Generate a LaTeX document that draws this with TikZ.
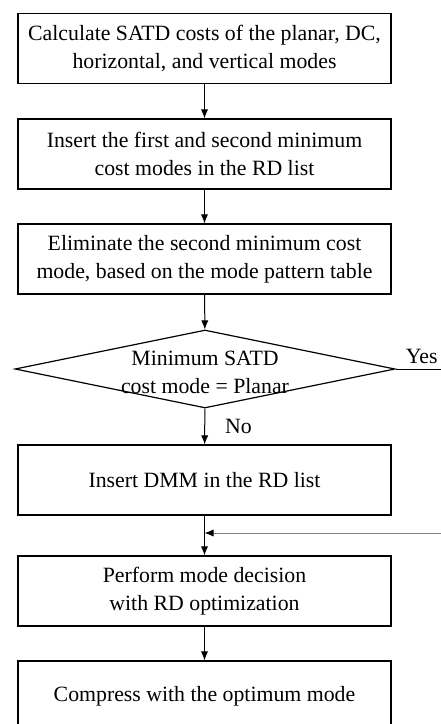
\documentclass[tikz,border=0pt]{standalone}
\usepackage{fontspec}
\setmainfont{Liberation Serif}
\usetikzlibrary{shapes.geometric,arrows.meta}

\tikzset{
  stepbox/.style={draw, line width=0.6pt, minimum width=186.5pt, minimum height=35pt,
    align=center, inner sep=0pt, font=\fontsize{10.9}{14}\selectfont},
  cond/.style={draw, diamond, line width=0.6pt, minimum width=190pt, minimum height=39pt, inner sep=0pt},
  flow/.style={line width=0.5pt, -{Latex[length=4.5pt,width=3.6pt]}},
  lbl/.style={font=\fontsize{10.9}{14}\selectfont, inner sep=0pt}
}

\begin{document}
\begin{tikzpicture}[x=0.5pt,y=-0.5pt]
  \useasboundingbox (0,0) rectangle (440,724);
  % main chain
  \node (calc) at (204.5,48.5) [stepbox] {Calculate SATD costs of the planar, DC,\\horizontal, and vertical modes};
  \node (ins) at (204.5,154) [stepbox] {Insert the first and second minimum\\cost modes in the RD list};
  \node (elim) at (204.5,259) [stepbox] {Eliminate the second minimum cost\\mode, based on the mode pattern table};
  \node (dec) at (205,369) [cond] {};
  \node (decT) at (205,372) [lbl, align=center] {Minimum SATD\\cost mode = Planar};
  \node (dmm) at (204.5,480) [stepbox] {Insert DMM in the RD list};
  \node (rdo) at (204.5,591) [stepbox] {Perform mode decision\\with RD optimization};
  \node (comp) at (204.5,696) [stepbox] {Compress with the optimum mode};

  \draw[flow] (calc) -- (ins);
  \draw[flow] (ins) -- (elim);
  \draw[flow] (elim) -- (dec);
  \draw[flow] (dec) -- node[lbl, right=10pt] {No} (dmm);
  \draw[flow] (dmm) -- (rdo);
  \draw[flow] (rdo) -- (comp);

  % yes branch and return (leave the frame)
  \coordinate (yesEnd) at (470,369);
  \coordinate (back) at (470,533);
  \draw[line width=0.5pt] (dec.east) -- (yesEnd);
  \node (yes) at (438,364) [lbl, anchor=south east] {Yes};
  \draw[line width=0.5pt, gray, -{Latex[length=4.5pt,width=3.6pt,color=black]}] (back) -- (back -| dmm.south);
\end{tikzpicture}
\end{document}
